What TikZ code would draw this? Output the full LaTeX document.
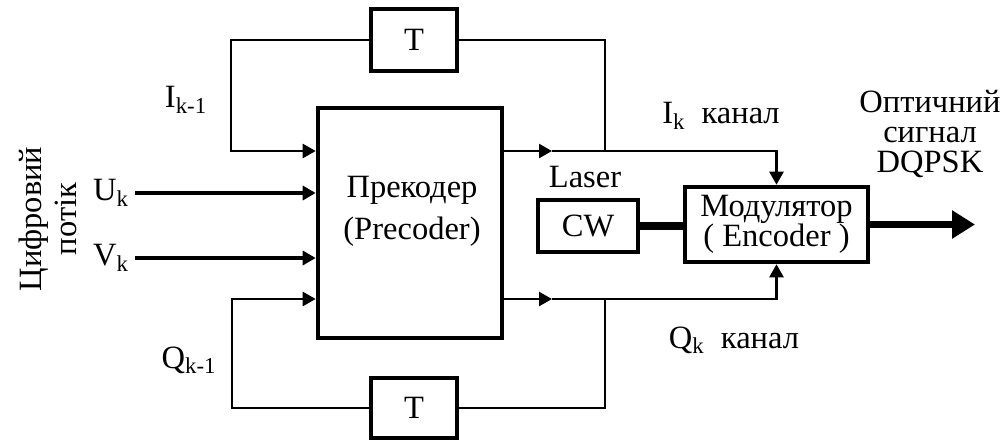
\documentclass[tikz,border=0pt]{standalone}
\usepackage{fontspec}
\setmainfont{Liberation Serif}
\usetikzlibrary{arrows.meta}
\tikzset{
  blk/.style={draw,line width=2.6pt,inner sep=0pt},
  fb/.style={line width=1.4pt},
  inp/.style={line width=2pt},
  heavy/.style={line width=4.5pt}
}
\begin{document}
\begin{tikzpicture}[font=\fontsize{18.5}{17}\selectfont,>={Triangle[length=2.6mm,width=2.8mm]}]
  \useasboundingbox (0,0) rectangle (20.14,-8.82);
  \node[blk,minimum width=3.68cm,minimum height=4.60cm] (prec) at (8.20,-4.46) {};
  \node[align=center,font=\fontsize{18.5}{24}\selectfont] (prectext) at (8.24,-4.23) {Прекодер\\(Precoder)};
  \node[blk,minimum width=1.72cm,minimum height=1.24cm] (ttop) at (8.28,-0.80) {T};
  \node[blk,minimum width=1.72cm,minimum height=1.20cm] (tbot) at (8.28,-8.16) {T};
  \node[blk,minimum width=2.00cm,minimum height=1.04cm] (cw) at (11.76,-4.52) {CW};
  \node (laser) at (11.70,-3.54) {Laser};
  \node[blk,minimum width=3.66cm,minimum height=1.50cm,align=center] (mod) at (15.53,-4.49) {Модулятор\\( Encoder )};

  \node[rotate=90,align=center,font=\fontsize{18.5}{20}\selectfont] (stream) at (0.95,-4.38) {Цифровий\\потік};
  \node (uk) at (2.22,-3.86) {U\textsubscript{k}};
  \node (vk) at (2.22,-5.16) {V\textsubscript{k}};
  \node (ik1) at (3.72,-2.00) {I\textsubscript{k-1}};
  \node (qk1) at (3.78,-7.20) {Q\textsubscript{k-1}};
  \node (ikch) at (14.42,-2.32) {I\textsubscript{k}\enspace канал};
  \node (qkch) at (14.68,-6.80) {Q\textsubscript{k}\enspace канал};
  \node[align=center] (optic) at (18.60,-2.68) {Оптичний\\сигнал\\DQPSK};

  \coordinate (isplit) at (12.10,-3.02);
  \coordinate (qsplit) at (12.10,-5.98);
  \coordinate (imid) at (11.04,-3.02);
  \coordinate (qmid) at (11.04,-5.98);
  \coordinate (ibend) at (4.62,-3.02);
  \coordinate (qbend) at (4.64,-5.98);
  \coordinate (out) at (19.50,-4.54);

  \draw[inp,->] (uk.east) -- (uk.east -| prec.west);
  \draw[inp,->] (vk.east) -- (vk.east -| prec.west);

  \draw[fb] (isplit) |- (ttop.east);
  \draw[fb,->] (ttop.west) -| (ibend) -- (prec.west |- ibend);
  \draw[fb,->] (prec.east |- imid) -- (imid);
  \draw[fb,->] (imid) -| (mod.north);

  \draw[fb] (qsplit) |- (tbot.east);
  \draw[fb,->] (tbot.west) -| (qbend) -- (prec.west |- qbend);
  \draw[fb,->] (prec.east |- qmid) -- (qmid);
  \draw[fb,->] (qmid) -| (mod.south);

  \draw[heavy] (cw.east) -- (cw.east -| mod.west);
  \draw[heavy,-{Triangle[length=4.6mm,width=5.4mm]}] (mod.east) -- (mod.east -| out);
\end{tikzpicture}
\end{document}
